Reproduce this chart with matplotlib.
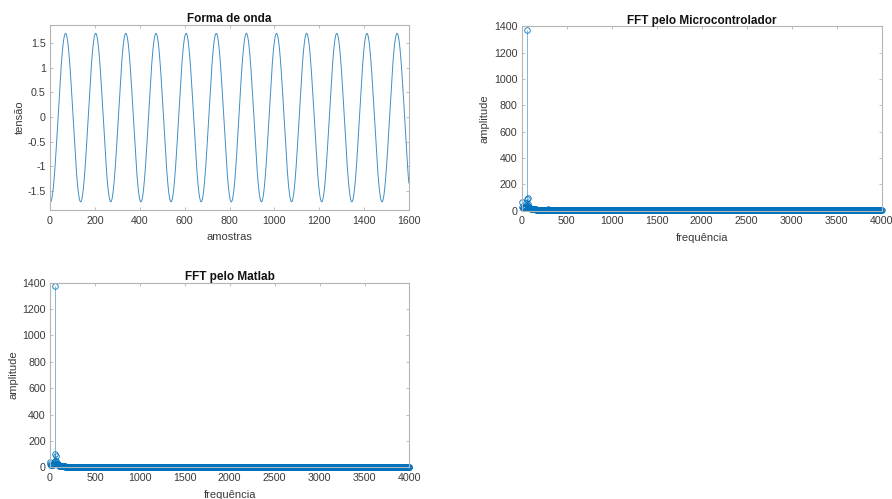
import matplotlib.pyplot as plt
import numpy as np

plt.rcParams['font.family'] = ['Liberation Sans', 'DejaVu Sans']

# waveform: 60 Hz-ish sine, 1600 samples
n_samples = 1600
wave_amp = 1.71
wave_offset = -0.01
wave_period = 134.3     # samples per cycle
wave_trough = 2.0       # sample of first trough

# FFT magnitudes (bins every 5 Hz, 0..4000 Hz)
freq_step = 5
mcu_head = [65, 25, 22, 20, 20, 20, 22, 24, 28, 35, 55, 90, 1375, 95, 50, 35,
            28, 24, 20, 18, 16, 15, 14, 13, 12, 11, 11, 10, 10, 9, 9, 9,
            8, 8, 8, 7, 7, 7, 7, 6, 6, 6, 6, 6, 6, 6, 6, 6, 6, 6,
            6, 6, 6, 6, 6, 6, 6, 6, 10, 8]
mcu_tail = 3
matlab_head = [42, 22, 20, 18, 18, 18, 20, 22, 26, 33, 50, 100, 1372, 85, 45, 32,
               26, 22, 18, 16, 14, 13, 12, 11, 10, 10, 9, 9, 8, 8, 8, 7,
               7, 7, 6, 6, 6, 6, 5, 5, 5, 5, 5, 5, 5, 5, 5, 5, 5, 5]
matlab_tail = 2

wave_ticks = [0, 200, 400, 600, 800, 1000, 1200, 1400, 1600]
volt_ticks = [-1.5, -1, -0.5, 0, 0.5, 1, 1.5]
volt_labels = ['-1.5', '-1', '-0.5', '0', '0.5', '1', '1.5']
freq_ticks = [0, 500, 1000, 1500, 2000, 2500, 3000, 3500, 4000]
amp_ticks = [0, 200, 400, 600, 800, 1000, 1200, 1400]

blue = '#0072BD'
wave_color = '#3f8fc4'
box_color = '#b5b5b5'
text_color = '#3a3a3a'

n = np.arange(n_samples)
wave = wave_offset - wave_amp * np.cos(2 * np.pi * (n - wave_trough) / wave_period)

n_bins = 4000 // freq_step + 1
freqs = np.arange(n_bins) * freq_step
mcu = np.array(mcu_head + [mcu_tail] * (n_bins - len(mcu_head)), dtype=float)
matlab = np.array(matlab_head + [matlab_tail] * (n_bins - len(matlab_head)), dtype=float)


def style(ax):
    for s in ax.spines.values():
        s.set_color(box_color)
        s.set_linewidth(0.8)
    ax.tick_params(direction='in', length=2.5, width=0.6, color=box_color,
                   labelsize=7.7, labelcolor=text_color, top=True, right=True, pad=3)
    ax.tick_params(axis='x', pad=4)


def stem_plot(ax, f, a, title):
    ax.vlines(f, 0, a, color=blue, lw=0.5, alpha=0.7)
    ax.plot(f, a, 'o', mfc='none', mec=blue, ms=4.0, mew=0.6, clip_on=False)
    ax.set_xlim(0, 4000)
    ax.set_ylim(0, 1400)
    ax.set_xticks(freq_ticks)
    ax.set_yticks(amp_ticks)
    ax.set_title(title, fontsize=8.5, fontweight='bold', color='#111111', pad=2)
    ax.set_xlabel('frequência', fontsize=8, color=text_color, labelpad=5)
    ax.set_ylabel('amplitude', fontsize=8, color=text_color, labelpad=3)
    style(ax)


fig = plt.figure(figsize=(8.92, 4.99), dpi=100)

ax1 = fig.add_axes([0.0561, 0.5792, 0.4025, 0.3707])
ax1.plot(n, wave, color=wave_color, lw=0.7)
ax1.set_xlim(0, 1600)
ax1.set_ylim(-1.885, 1.87)
ax1.set_xticks(wave_ticks)
ax1.set_yticks(volt_ticks)
ax1.set_yticklabels(volt_labels)
ax1.set_title('Forma de onda', fontsize=8.5, fontweight='bold', color='#111111', pad=2)
ax1.set_xlabel('amostras', fontsize=8, color=text_color, labelpad=5)
ax1.set_ylabel('tensão', fontsize=8, color=text_color, labelpad=2)
style(ax1)

ax2 = fig.add_axes([0.5849, 0.5778, 0.4036, 0.3691])
stem_plot(ax2, freqs, mcu, 'FFT pelo Microcontrolador')

ax3 = fig.add_axes([0.0561, 0.0635, 0.4029, 0.3699])
stem_plot(ax3, freqs, matlab, 'FFT pelo Matlab')

fig.savefig('out.png', dpi=100)
